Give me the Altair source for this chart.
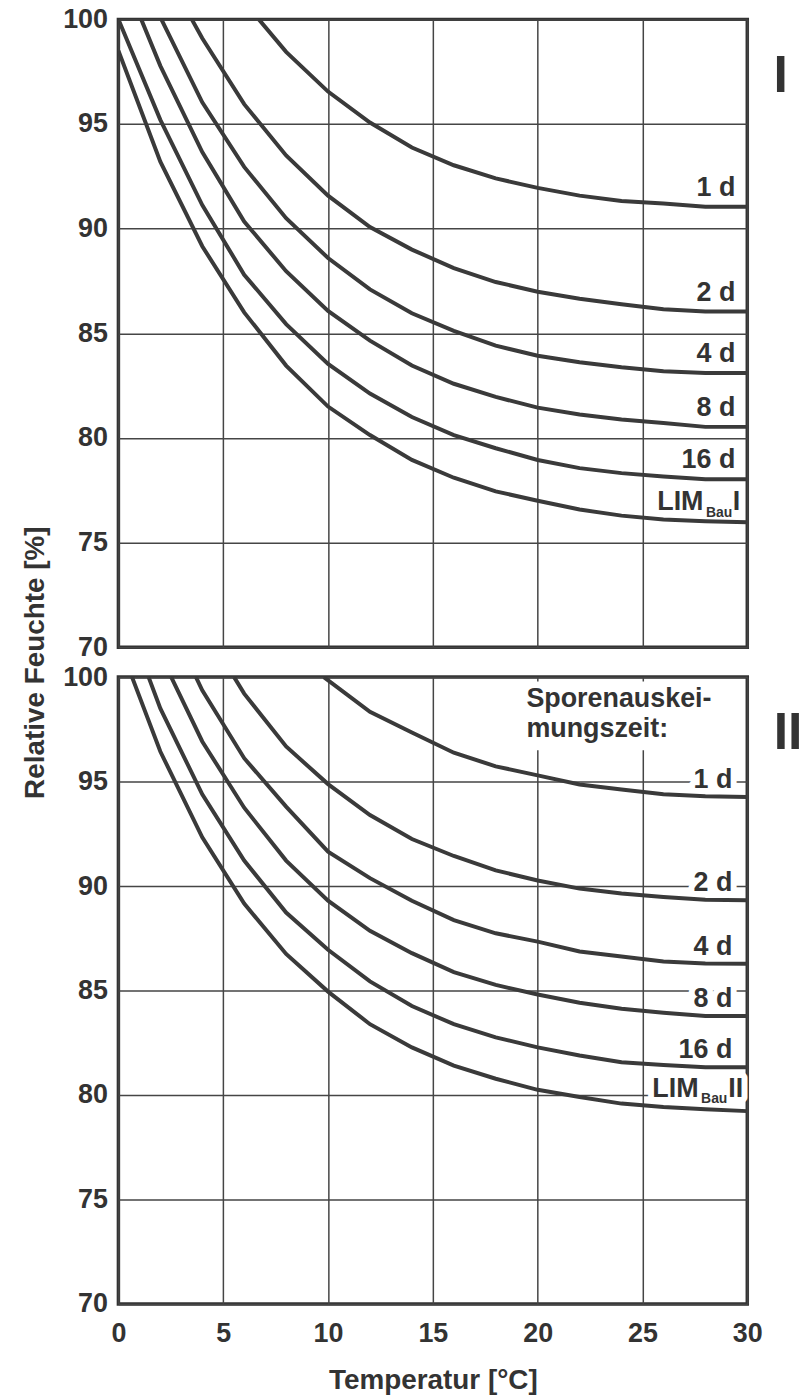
import altair as alt
import pandas as pd

FONT = "Liberation Sans"
INK = "#333333"
LINE = "#3a3a3a"
GRID = "#454545"

# ---------------- Panel I ----------------
t_1d_x = [6.7, 8, 10, 12, 14, 16, 18, 20, 22, 24, 26, 28, 30]
t_1d_y = [100, 98.45, 96.55, 95.07, 93.88, 93.03, 92.4, 91.95, 91.58, 91.32, 91.2, 91.05, 91.05]
t_2d_x = [3.5, 4, 6, 8, 10, 12, 14, 16, 18, 20, 22, 24, 26, 28, 30]
t_2d_y = [100, 99.1, 95.95, 93.5, 91.58, 90.08, 89.0, 88.12, 87.45, 86.99, 86.65, 86.39, 86.15, 86.04, 86.04]
t_4d_x = [2.05, 4, 6, 8, 10, 12, 14, 16, 18, 20, 22, 24, 26, 28, 30]
t_4d_y = [100, 96.04, 92.95, 90.5, 88.6, 87.1, 85.96, 85.12, 84.41, 83.93, 83.62, 83.38, 83.19, 83.1, 83.1]
t_8d_x = [1.09, 2, 4, 6, 8, 10, 12, 14, 16, 18, 20, 22, 24, 26, 28, 30]
t_8d_y = [100, 97.78, 93.66, 90.34, 87.97, 86.07, 84.65, 83.46, 82.59, 81.96, 81.45, 81.12, 80.88, 80.72, 80.53, 80.53]
t_16d_x = [0, 2, 4, 6, 8, 10, 12, 14, 16, 18, 20, 22, 24, 26, 28, 30]
t_16d_y = [100, 95.2, 91.13, 87.8, 85.44, 83.54, 82.12, 81.0, 80.14, 79.51, 78.95, 78.56, 78.32, 78.16, 78.03, 78.03]
t_lim_x = [0, 2, 4, 6, 8, 10, 12, 14, 16, 18, 20, 22, 24, 26, 28, 30]
t_lim_y = [98.5, 93.2, 89.16, 86.0, 83.46, 81.5, 80.14, 78.95, 78.1, 77.45, 77.0, 76.58, 76.29, 76.1, 76.02, 75.97]

# ---------------- Panel II ----------------
b_1d_x = [9.8, 12, 14, 16, 18, 20, 22, 24, 26, 28, 30]
b_1d_y = [100, 98.34, 97.35, 96.38, 95.73, 95.3, 94.86, 94.62, 94.39, 94.3, 94.26]
b_2d_x = [5.52, 6, 8, 10, 12, 14, 16, 18, 20, 22, 24, 26, 28, 30]
b_2d_y = [100, 99.21, 96.68, 94.88, 93.4, 92.25, 91.44, 90.75, 90.27, 89.88, 89.64, 89.48, 89.35, 89.32]
b_4d_x = [3.7, 4, 6, 8, 10, 12, 14, 16, 18, 20, 22, 24, 26, 28, 30]
b_4d_y = [100, 99.37, 96.12, 93.8, 91.65, 90.38, 89.3, 88.37, 87.74, 87.34, 86.87, 86.63, 86.39, 86.3, 86.28]
b_8d_x = [2.52, 4, 6, 8, 10, 12, 14, 16, 18, 20, 22, 24, 26, 28, 30]
b_8d_y = [100, 96.92, 93.75, 91.22, 89.3, 87.86, 86.79, 85.88, 85.27, 84.81, 84.42, 84.13, 83.94, 83.78, 83.78]
b_16d_x = [1.44, 2, 4, 6, 8, 10, 12, 14, 16, 18, 20, 22, 24, 26, 28, 30]
b_16d_y = [100, 98.5, 94.39, 91.22, 88.73, 86.95, 85.44, 84.26, 83.39, 82.76, 82.28, 81.89, 81.57, 81.44, 81.33, 81.33]
b_lim_x = [0.65, 2, 4, 6, 8, 10, 12, 14, 16, 18, 20, 22, 24, 26, 28, 30]
b_lim_y = [100, 96.44, 92.33, 89.16, 86.75, 84.95, 83.39, 82.28, 81.41, 80.78, 80.25, 79.91, 79.59, 79.43, 79.32, 79.23]

x_ticks = [0, 5, 10, 15, 20, 25, 30]
y_ticks = [70, 75, 80, 85, 90, 95, 100]
series_labels = ["1 d", "2 d", "4 d", "8 d", "16 d"]
x_title = "Temperatur [°C]"
y_title = "Relative Feuchte [%]"
legend_title = "Sporenauskei-\nmungszeit:"

top_series = {"1 d": (t_1d_x, t_1d_y), "2 d": (t_2d_x, t_2d_y), "4 d": (t_4d_x, t_4d_y),
              "8 d": (t_8d_x, t_8d_y), "16 d": (t_16d_x, t_16d_y), "LIM": (t_lim_x, t_lim_y)}
bot_series = {"1 d": (b_1d_x, b_1d_y), "2 d": (b_2d_x, b_2d_y), "4 d": (b_4d_x, b_4d_y),
              "8 d": (b_8d_x, b_8d_y), "16 d": (b_16d_x, b_16d_y), "LIM": (b_lim_x, b_lim_y)}


def curves_df(series):
    rows = []
    for name, (xs, ys) in series.items():
        for i, (x, y) in enumerate(zip(xs, ys)):
            rows.append({"series": name, "x": x, "y": y, "i": i})
    return pd.DataFrame(rows)


def labels_df(series, names):
    return pd.DataFrame({"text": names,
                         "x": [series[n][0][-1] for n in names],
                         "y": [series[n][1][-1] for n in names]})


TXT = dict(font=FONT, fontWeight="bold", color=INK)


def make_panel(series, height, show_x, show_ytitle, lab_dx, lab_dy, lim_parts, roman, roman_x, extra=None):
    xaxis = alt.Axis(values=x_ticks, grid=True, gridColor=GRID, gridWidth=1.5, gridOpacity=1,
                     ticks=False, domain=False, labels=show_x, labelFlush=False,
                     labelFont=FONT, labelFontSize=27, labelFontWeight="bold", labelColor=INK,
                     labelPadding=17, titleFont=FONT, titleFontSize=28, titleFontWeight="bold",
                     titleColor=INK, titleBaseline="alphabetic", titleY=85)
    yaxis_kw = dict(values=y_ticks, grid=True, gridColor=GRID, gridWidth=1.5, gridOpacity=1,
                    ticks=False, domain=False, labelFlush=False,
                    labelFont=FONT, labelFontSize=27, labelFontWeight="bold", labelColor=INK,
                    labelPadding=11)
    if show_ytitle:
        yaxis_kw.update(titleFont=FONT, titleFontSize=28, titleFontWeight="bold", titleColor=INK,
                        titleAngle=270, titleBaseline="alphabetic", titleAlign="center",
                        titleX=-75, titleY=646)
    yaxis = alt.Axis(**yaxis_kw)
    xs = alt.Scale(domain=[0, 30], nice=False, zero=False)
    ys = alt.Scale(domain=[70, 100], nice=False, zero=False)
    X = alt.X("x:Q", scale=xs, axis=xaxis, title=x_title if show_x else None)
    Y = alt.Y("y:Q", scale=ys, axis=yaxis, title=y_title if show_ytitle else None)

    cdf = curves_df(series)
    ldf = labels_df(series, series_labels)
    limdf = labels_df(series, ["LIM"])

    layers = []
    if extra is not None:
        layers += extra
    # white halos behind labels (interrupt grid lines)
    halo = dict(stroke="white", strokeWidth=12, strokeJoin="round", color="white", font=FONT,
                fontWeight="bold", baseline="alphabetic", align="right")
    layers.append(alt.Chart(ldf).mark_text(fontSize=27, dx=lab_dx, dy=lab_dy, **halo)
                  .encode(x=X, y=Y, text="text:N"))
    for txt, size, dx, dy in lim_parts:
        layers.append(alt.Chart(limdf).mark_text(fontSize=size, dx=dx, dy=dy, **halo)
                      .encode(x=X, y=Y, text=alt.value(txt)))
    # curves
    layers.append(alt.Chart(cdf).mark_line(color=LINE, strokeWidth=4, clip=True)
                  .encode(x=X, y=Y, detail="series:N", order="i:Q"))
    # labels
    layers.append(alt.Chart(ldf).mark_text(fontSize=27, dx=lab_dx, dy=lab_dy, align="right",
                                          baseline="alphabetic", **TXT)
                  .encode(x=X, y=Y, text="text:N"))
    for txt, size, dx, dy in lim_parts:
        layers.append(alt.Chart(limdf).mark_text(fontSize=size, dx=dx, dy=dy, align="right",
                                                baseline="alphabetic", **TXT)
                      .encode(x=X, y=Y, text=alt.value(txt)))
    # roman numeral
    one = pd.DataFrame({"a": [0]})
    layers.append(alt.Chart(one).mark_text(fontSize=52, align="center", baseline="alphabetic", **TXT)
                  .encode(x=alt.value(roman_x), y=alt.value(72.5), text=alt.value(roman)))
    return alt.layer(*layers).properties(width=632, height=height)


one = pd.DataFrame({"a": [0]})
legend_box = alt.Chart(one).mark_rect(color="white").encode(
    x=alt.value(405), x2=alt.value(629), y=alt.value(4.5), y2=alt.value(73.5))
legend_text = alt.Chart(one).mark_text(fontSize=27, align="left", baseline="alphabetic",
                                       lineBreak="\n", lineHeight=30, **TXT).encode(
    x=alt.value(410), y=alt.value(30.5), text=alt.value(legend_title))

top = make_panel(top_series, 631, False, True, -12, -11,
                 [("LIM", 27, -44, -12), ("Bau", 14, -15, -5), ("I", 27, -7, -12)],
                 "I", 665.5)
bottom = make_panel(bot_series, 630, True, False, -15, -9,
                    [("LIM", 27, -49, -14.5), ("Bau", 14, -20, -8), ("II", 27, -4, -14.5)],
                    "II", 673, extra=[legend_box, legend_text])

chart = alt.vconcat(top, bottom, spacing=30, bounds="flush").properties(
    padding={"left": 20, "top": 0, "right": 0, "bottom": 0},
    background="white",
).configure_view(stroke=INK, strokeWidth=3.5)

chart.save("out.html", embed_options={"renderer": "svg", "actions": False})
